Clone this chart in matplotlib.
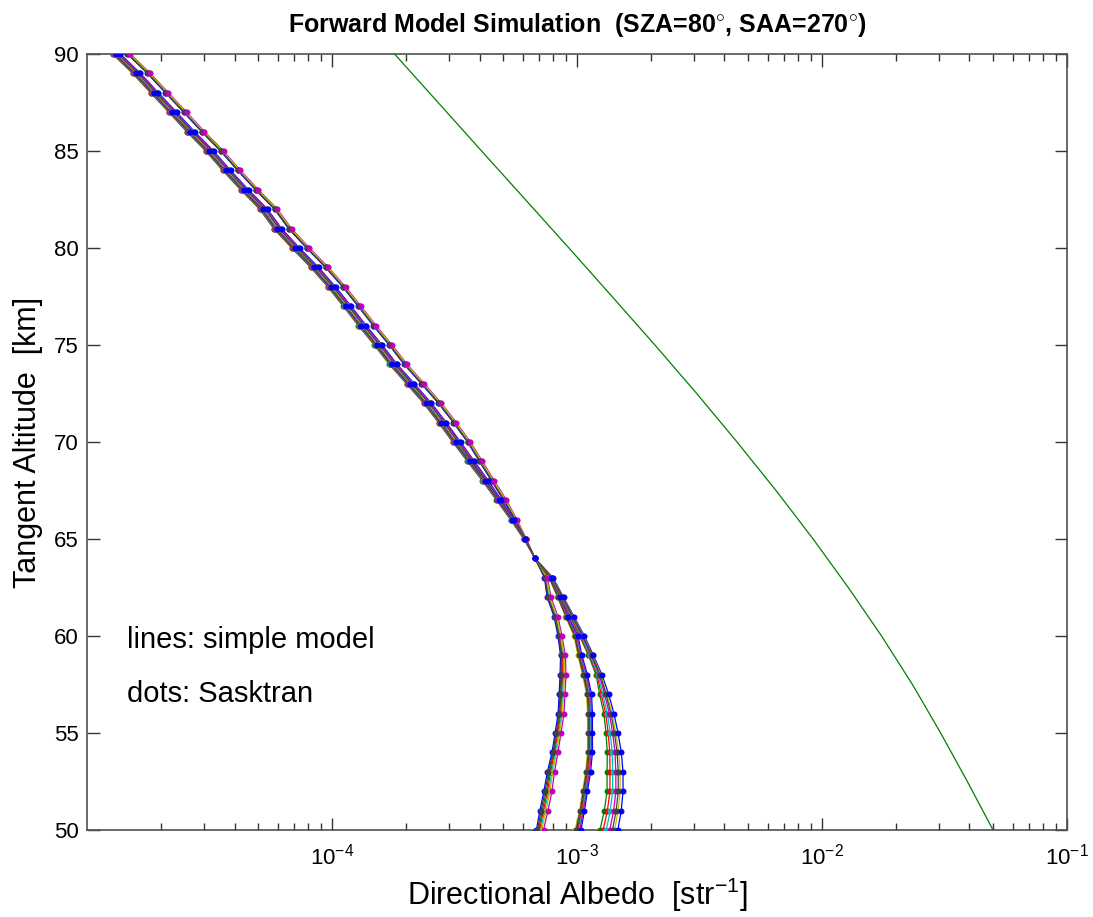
import numpy as np
import matplotlib
matplotlib.use("Agg")
import matplotlib.pyplot as plt
from matplotlib import font_manager
from matplotlib.ticker import FixedLocator, LogLocator, NullFormatter

plt.rcParams['font.family'] = ['Liberation Sans', 'DejaVu Sans']
plt.rcParams['mathtext.fontset'] = 'custom'
plt.rcParams['mathtext.rm'] = 'Liberation Sans'
plt.rcParams['mathtext.it'] = 'Liberation Sans:italic'
plt.rcParams['mathtext.bf'] = 'Liberation Sans:bold'

# tangent altitudes of the profiles [km], 90 -> 50
alt_km = list(range(90, 49, -1))

# common profile above 64 km (90..64), directional albedo [str^-1]
upper_center = [1.35e-5, 1.63e-5, 1.93e-5, 2.29e-5, 2.71e-5, 3.24e-5, 3.80e-5,
                4.50e-5, 5.38e-5, 6.14e-5, 7.27e-5, 8.69e-5, 1.02e-4, 1.18e-4,
                1.36e-4, 1.58e-4, 1.82e-4, 2.14e-4, 2.51e-4, 2.89e-4, 3.30e-4,
                3.76e-4, 4.29e-4, 4.85e-4, 5.48e-4, 6.13e-4, 6.74e-4]

# offset of each case above 64 km (ratio to the common profile)
upper_shift_a = [1.098] * 21 + [1.078, 1.058, 1.048, 1.029, 1.009, 1.0]
upper_shift_b = [1.0] * 27
upper_shift_c = [0.955] * 21 + [0.963, 0.972, 0.981, 0.986, 0.995, 1.0]

# profiles below 64 km (63..50)
lower_a = [7.47e-4, 7.69e-4, 8.21e-4, 8.52e-4, 8.77e-4, 8.77e-4, 8.69e-4,
           8.61e-4, 8.37e-4, 8.13e-4, 7.83e-4, 7.61e-4, 7.33e-4, 7.06e-4]
lower_b = [7.76e-4, 8.44e-4, 9.10e-4, 9.91e-4, 1.028e-3, 1.078e-3, 1.12e-3,
           1.13e-3, 1.13e-3, 1.13e-3, 1.11e-3, 1.078e-3, 1.048e-3, 1.01e-3]
lower_c = [7.91e-4, 8.69e-4, 9.54e-4, 1.048e-3, 1.14e-3, 1.23e-3, 1.29e-3,
           1.35e-3, 1.39e-3, 1.42e-3, 1.43e-3, 1.43e-3, 1.40e-3, 1.35e-3]

# width of each bundle of lines [decades]
upper_spread = [0.012] * 24 + [0.008, 0.004, 0.0]
lower_spread_a = [0.012, 0.016, 0.016, 0.016, 0.020, 0.024, 0.024,
                  0.024, 0.024, 0.024, 0.029, 0.033, 0.033, 0.029]
lower_spread_b = [0.008, 0.012, 0.012, 0.016, 0.016, 0.020, 0.020,
                  0.020, 0.020, 0.020, 0.020, 0.020, 0.020, 0.024]
lower_spread_c = [0.008, 0.012, 0.016, 0.020, 0.020, 0.024, 0.037,
                  0.041, 0.049, 0.057, 0.065, 0.065, 0.069, 0.073]

# matlab colour order: b, g, r, c, m, y, k
line_colors = ['#0000ff', '#008000', '#ff0000', '#00bfbf', '#bf00bf', '#bfbf00', '#404040']
# position of each coloured line inside its bundle (0 = left, 1 = right)
frac_a = [0.0, 0.3, 0.45, 0.6, 1.0, 0.75, 0.15]
frac_b = [1.0, 0.35, 0.5, 0.65, 0.8, 0.0, 0.15]
frac_c = [1.0, 0.0, 0.18, 0.35, 0.55, 0.82, 0.7]
# which colour's dots end up on top in each case
top_dot = [4, 0, 0]

# single reference curve
green_alt = [90, 87.5, 85, 82.5, 80, 77.5, 75, 72.5, 70, 67.5, 65, 62.5,
             60, 57.5, 55, 52.5, 50]
green_val = [1.80e-4, 2.71e-4, 4.08e-4, 6.15e-4, 9.27e-4, 1.39e-3, 2.08e-3,
             3.08e-3, 4.50e-3, 6.49e-3, 9.20e-3, 1.28e-2, 1.75e-2, 2.34e-2,
             3.05e-2, 3.92e-2, 4.99e-2]

x_ticks = [1e-4, 1e-3, 1e-2, 1e-1]
x_tick_labels = [r'$10^{-4}$', r'$10^{-3}$', r'$10^{-2}$', r'$10^{-1}$']
y_ticks = [50, 55, 60, 65, 70, 75, 80, 85, 90]

cases = [
    (upper_shift_a, lower_a, lower_spread_a, frac_a),
    (upper_shift_b, lower_b, lower_spread_b, frac_b),
    (upper_shift_c, lower_c, lower_spread_c, frac_c),
]

fig = plt.figure(figsize=(10.93, 9.17), dpi=100)
ax = fig.add_axes([0.0796, 0.0949, 0.8966, 0.8462])

alt = np.array(alt_km)
profiles = []
for shift, lower, lower_spread, fracs in cases:
    center = np.concatenate([np.array(upper_center) * np.array(shift), lower])
    spread = np.concatenate([upper_spread, lower_spread])
    profiles.append([center * 10 ** (spread * (f - 0.5)) for f in fracs])

# simple model: lines
for prof in profiles:
    for color, vals in zip(line_colors, prof):
        ax.plot(vals, alt, color=color, lw=0.9, zorder=2)

# sasktran: dots
for k, prof in enumerate(profiles):
    for i, (color, vals) in enumerate(zip(line_colors, prof)):
        z = 4 if i == top_dot[k] else 3
        ax.plot(vals, alt, ls='none', marker='o', ms=4.3, mew=0, color=color, zorder=z)

ax.plot(green_val, green_alt, color='#008000', lw=0.9, zorder=2)

ax.set_xscale('log')
ax.set_xlim(1e-5, 1e-1)
ax.set_ylim(50, 90)
ax.xaxis.set_major_locator(FixedLocator(x_ticks))
ax.set_xticklabels(x_tick_labels)
ax.xaxis.set_minor_locator(LogLocator(base=10, subs=np.arange(2, 10)))
ax.xaxis.set_minor_formatter(NullFormatter())
ax.set_yticks(y_ticks)

ax.tick_params(axis='both', which='both', direction='in', top=True, right=True,
               colors='#333333', labelcolor='black', labelsize=16)
ax.tick_params(axis='x', which='major', length=9, width=1, pad=10)
ax.tick_params(axis='x', which='minor', length=5, width=1)
ax.tick_params(axis='y', which='major', length=9, width=1, pad=6)
for sp in ax.spines.values():
    sp.set_color('#505050')
    sp.set_linewidth(1.2)

names = {f.name for f in font_manager.fontManager.ttflist}
if 'Liberation Sans Narrow' in names:
    title_font, title_size = ['Liberation Sans Narrow', 'DejaVu Sans'], 21
else:
    title_font, title_size = ['Liberation Sans', 'DejaVu Sans'], 18

ax.set_xlabel(r'Directional Albedo  [str$^{-1}$]', fontsize=22, labelpad=4)
ax.set_ylabel('Tangent Altitude  [km]', fontsize=22, labelpad=8)
ax.set_title(r'Forward Model Simulation  (SZA=80$^{\circ}$, SAA=270$^{\circ}$)',
             fontsize=title_size, family=title_font, fontweight='bold', pad=16)

ax.text(1.45e-5, 59.8, 'lines: simple model', fontsize=21, va='center')
ax.text(1.45e-5, 57.0, 'dots: Sasktran', fontsize=21, va='center')

fig.savefig('out.png', dpi=100)
